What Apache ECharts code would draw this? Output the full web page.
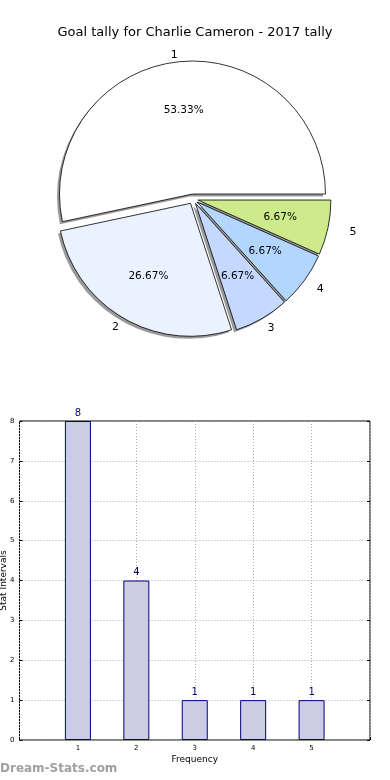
<!DOCTYPE html>
<html><head><meta charset="utf-8">
<script src="https://cdn.jsdelivr.net/npm/echarts@6/dist/echarts.min.js"></script>
<style>html,body{margin:0;padding:0;background:#fff}#c{width:390px;height:780px}</style>
</head><body><div id="c"></div>
<script>
const titleText = 'Goal tally for Charlie Cameron - 2017 tally';
const categories = ['1', '2', '3', '4', '5'];
const values = [8, 4, 1, 1, 1];
const sliceColors = ['#ffffff', '#eaf1ff', '#c5d8ff', '#b3d6ff', '#cdeb8b'];
const yTicks = [0, 1, 2, 3, 4, 5, 6, 7, 8];
const xName = 'Frequency';
const yName = 'Stat Intervals';
const watermark = 'Dream-Stats.com';
// gap between the rim and each outer label (styling, compensates circle vs. the reference's ellipse)
const labelGaps = [7, 10, 11, 15, 22];

const chart = echarts.init(document.getElementById('c'), null, {renderer: 'canvas'});
const F = 'DejaVu Sans';
const R = 133;
const CX = 193, CY = 199;
const total = values.reduce((a, b) => a + b, 0);
const pieData = categories.map((c, i) => ({
  name: c, value: values[i], selected: true,
  itemStyle: {color: sliceColors[i]},
  labelLine: {show: false, length: labelGaps[i], length2: 0}
}));
const plainData = categories.map((c, i) => ({name: c, value: values[i], selected: true}));
const none = {color: 'rgba(0,0,0,0)', borderWidth: 0, borderColor: 'rgba(0,0,0,0)'};
const shadowStyle = {color: 'rgba(120,120,120,0.75)', borderWidth: 0};
const pieCommon = {
  type: 'pie', startAngle: 0, clockwise: false,
  selectedMode: 'multiple', selectedOffset: 5,
  avoidLabelOverlap: false, silent: true, emphasis: {disabled: true}
};

chart.setOption({
  animation: false,
  backgroundColor: '#fff',
  title: {
    text: titleText, left: 'center', top: 21,
    textStyle: {fontFamily: F, fontSize: 13, fontWeight: 'normal', color: '#000'}
  },
  graphic: [{
    type: 'text', left: 0, top: 763,
    style: {text: watermark, fontFamily: F, fontSize: 12, fontWeight: 'bold', fill: '#a0a0a0'}
  }],
  grid: {left: 19.5, right: 20, top: 421, bottom: 40, outerBoundsMode: 'none', containLabel: false,
    show: true, borderColor: '#000', borderWidth: 1},
  xAxis: {
    type: 'value', min: 0, max: 6, interval: 1,
    name: xName, nameLocation: 'middle', nameGap: 15, nameMoveOverlap: false,
    nameTextStyle: {fontFamily: F, fontSize: 9, color: '#000'},
    axisLine: {show: false},
    axisTick: {show: true, inside: true, length: 3, lineStyle: {color: '#000'}},
    axisLabel: {fontFamily: F, fontSize: 7, color: '#000', margin: 5,
      formatter: v => (v >= 1 && v <= 5) ? categories[v - 1] : ''},
    splitLine: {show: true, lineStyle: {color: '#b0b0b0', type: [1, 2], width: 1}}
  },
  yAxis: [{
    type: 'value', min: yTicks[0], max: yTicks[yTicks.length - 1], interval: 1,
    name: yName, nameLocation: 'middle', nameGap: 11, nameRotate: 90, nameMoveOverlap: false,
    nameTextStyle: {fontFamily: F, fontSize: 9, color: '#000'},
    axisLine: {show: false},
    axisTick: {show: true, inside: true, length: 3, lineStyle: {color: '#000'}},
    axisLabel: {fontFamily: F, fontSize: 7, color: '#000', margin: 5},
    splitLine: {show: true, lineStyle: {color: '#b0b0b0', type: [1, 2], width: 1}}
  }, {
    type: 'value', min: 0, max: 8, interval: 1, position: 'right',
    axisLine: {show: false},
    axisTick: {show: true, inside: true, length: 3, lineStyle: {color: '#000'}},
    axisLabel: {show: false}, splitLine: {show: false}
  }],
  series: [Object.assign({}, pieCommon, {
    name: 'shadow', center: [CX - 2.5, CY + 2.5], radius: [0, R],
    data: plainData, itemStyle: shadowStyle, select: {itemStyle: shadowStyle},
    label: {show: false}, labelLine: {show: false}
  }), Object.assign({}, pieCommon, {
    name: 'pie', center: [CX, CY], radius: [0, R],
    data: pieData,
    itemStyle: {borderColor: '#000', borderWidth: 0.8},
    select: {itemStyle: {borderColor: '#000', borderWidth: 0.8}},
    label: {show: true, position: 'outside', formatter: '{b}',
      fontFamily: F, fontSize: 11, color: '#000', distanceToLabelLine: 0},
    labelLine: {show: false, length: 12, length2: 0}
  }), Object.assign({}, pieCommon, {
    name: 'pct', center: [CX, CY], radius: [R * 0.22, R],
    data: plainData,
    itemStyle: none, select: {itemStyle: none},
    label: {show: true, position: 'inside',
      formatter: p => (p.value / total * 100).toFixed(2) + '%',
      fontFamily: F, fontSize: 10.5, color: '#000'},
    labelLine: {show: false}
  }), {
    type: 'bar', xAxisIndex: 0, yAxisIndex: 0,
    data: categories.map((c, i) => [Number(c), values[i]]),
    barWidth: 26,
    itemStyle: {color: '#ccccE3', borderColor: '#000080', borderWidth: 1},
    label: {show: true, position: 'top', distance: 3, fontFamily: F, fontSize: 10, color: '#000080'},
    silent: true
  }]
});
</script></body></html>
